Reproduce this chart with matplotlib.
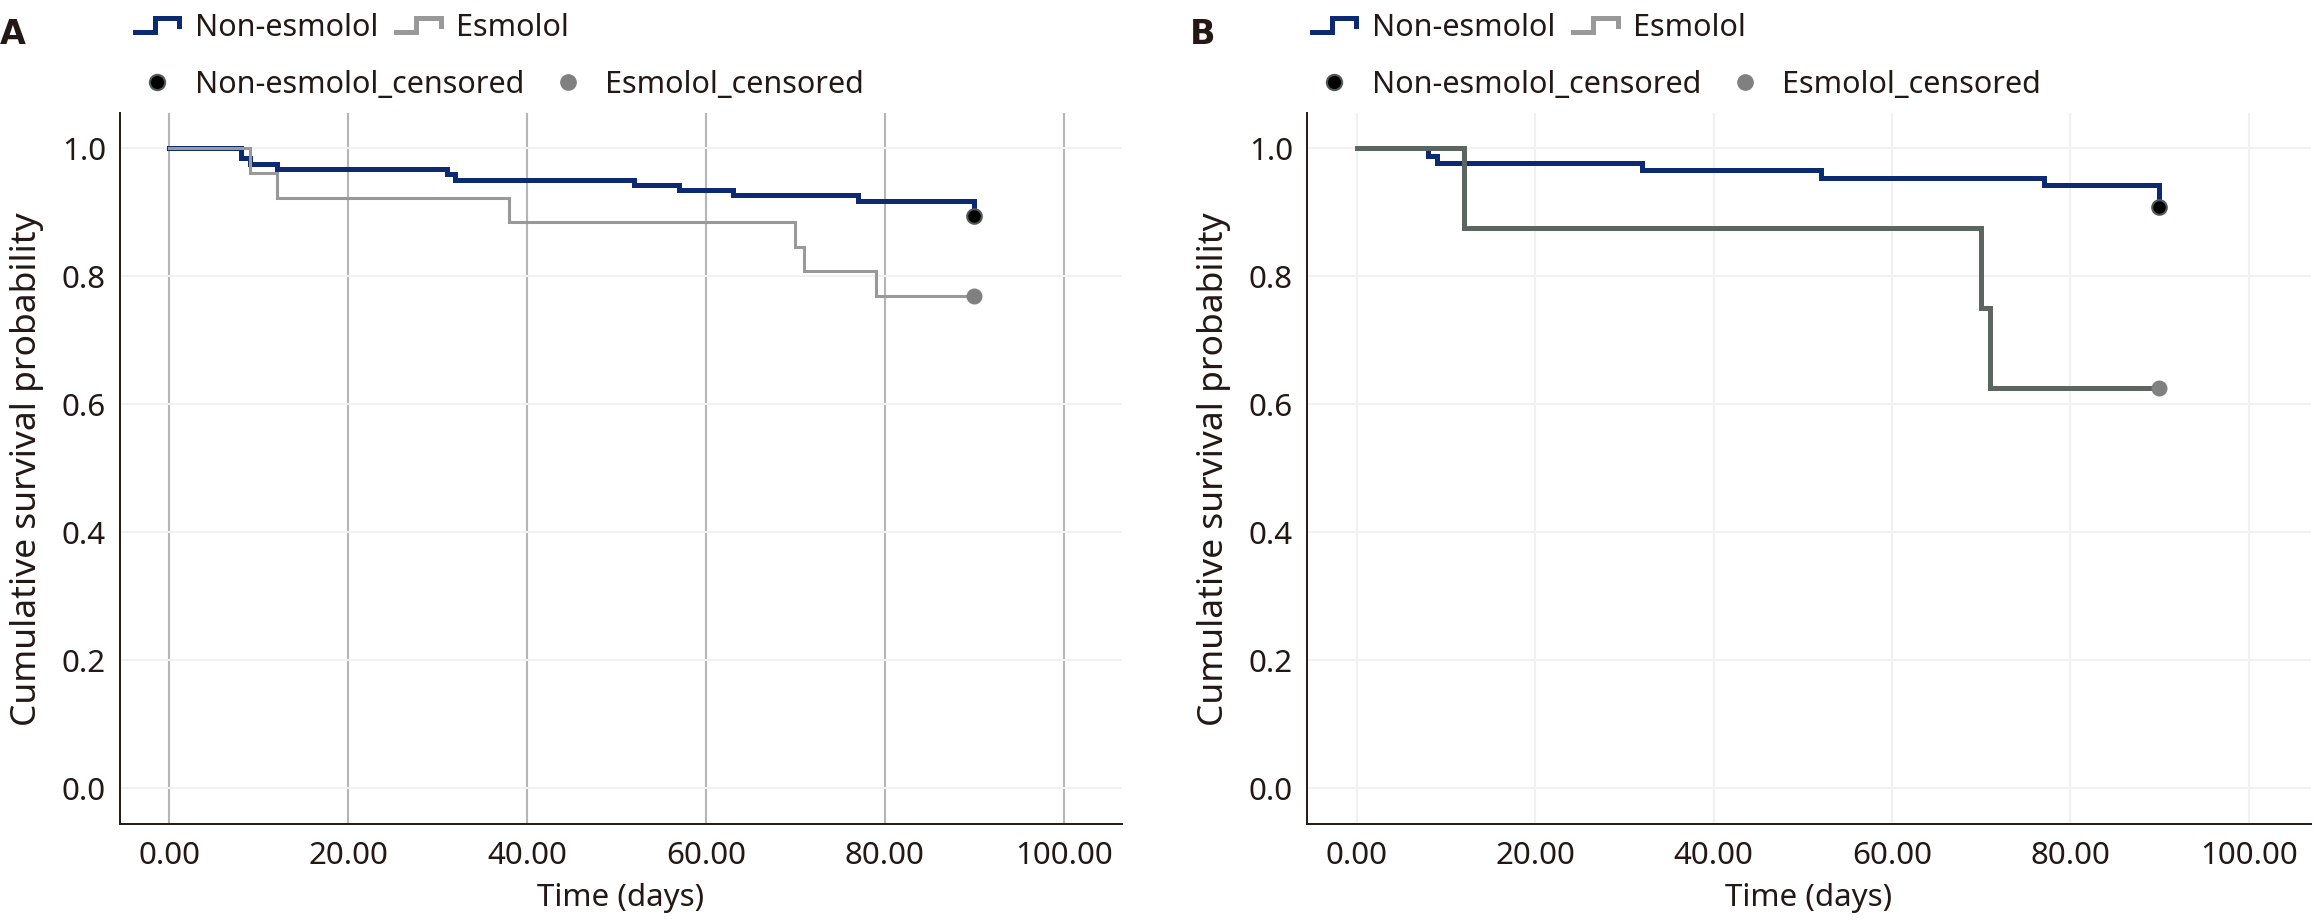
import matplotlib
matplotlib.use("Agg")
import matplotlib.pyplot as plt
from matplotlib.lines import Line2D
from matplotlib.legend_handler import HandlerBase

# Kaplan-Meier step data (time in days, survival)
A_NON_T = [0, 8, 9, 12, 31, 32, 52, 57, 63, 77, 90]
A_NON_S = [1.0, 0.985, 0.976, 0.968, 0.960, 0.951, 0.943, 0.935, 0.927, 0.918, 0.894]
A_ES_T = [0, 9, 12, 38, 70, 71, 79, 90]
A_ES_S = [1.0, 0.962, 0.923, 0.885, 0.846, 0.808, 0.769, 0.769]

B_NON_T = [0, 8, 9, 32, 52, 77, 90]
B_NON_S = [1.0, 0.989, 0.977, 0.966, 0.954, 0.943, 0.908]
B_ES_T = [0, 12, 70, 71, 90]
B_ES_S = [1.0, 0.875, 0.750, 0.625, 0.625]

X_TICKS = [0, 20, 40, 60, 80, 100]
Y_TICKS = [0.0, 0.2, 0.4, 0.6, 0.8, 1.0]

NAVY = "#0b2a72"
GRAY_A = "#999999"
GRAY_B = "#5b6660"
CENS_GRAY = "#808080"
INK = "#231815"
FONT = ["Noto Sans", "DejaVu Sans"]


class StepHandler(HandlerBase):
    """little step glyph used by SPSS style legends"""
    def create_artists(self, legend, orig_handle, xdescent, ydescent,
                       width, height, fontsize, trans):
        x0 = -xdescent
        y0 = -ydescent
        xs = [x0, x0 + 0.45 * width, x0 + 0.45 * width, x0 + width, x0 + width]
        ys = [y0 + 0.2 * height, y0 + 0.2 * height, y0 + 0.85 * height,
              y0 + 0.85 * height, y0 + 0.45 * height]
        ln = Line2D(xs, ys, color=orig_handle.get_color(),
                    lw=orig_handle.get_linewidth(), transform=trans,
                    solid_joinstyle="miter")
        return [ln]


W, H = 2314, 921
fig = plt.figure(figsize=(W / 100, H / 100), dpi=100)

panels = [
    dict(rect=[120 / W, 0.1053, 1002 / W, 0.7717], xlim=(-5.5, 106.5),
         non=(A_NON_T, A_NON_S), es=(A_ES_T, A_ES_S), es_color=GRAY_A, es_lw=2.2,
         vgrid="#b5b5b5", letter="A", letter_x=0, leg_x=135),
    dict(rect=[1307 / W, 0.1053, 1004 / W, 0.7717], xlim=(-5.6, 107),
         non=(B_NON_T, B_NON_S), es=(B_ES_T, B_ES_S), es_color=GRAY_B, es_lw=3.6,
         vgrid="#f1f1f1", letter="B", letter_x=1190, leg_x=1312),
]

for p in panels:
    ax = fig.add_axes(p["rect"])
    ax.set_xlim(*p["xlim"])
    ax.set_ylim(-0.056, 1.055)

    ax.set_xticks(X_TICKS)
    ax.set_xticklabels([f"{v:.2f}" for v in X_TICKS], family=FONT, fontsize=22.5)
    ax.set_yticks(Y_TICKS)
    ax.set_yticklabels([f"{v:.1f}" for v in Y_TICKS], family=FONT, fontsize=22.5)
    ax.tick_params(axis="both", length=0, colors=INK)
    ax.tick_params(axis="x", pad=12)
    ax.tick_params(axis="y", pad=10)

    ax.xaxis.grid(True, color=p["vgrid"], lw=1.5)
    ax.yaxis.grid(True, color="#f1f1f1", lw=1.5)
    ax.set_axisbelow(True)
    for s in ("top", "right"):
        ax.spines[s].set_visible(False)
    for s in ("left", "bottom"):
        ax.spines[s].set_linewidth(1.4)
        ax.spines[s].set_color(INK)

    t, s = p["non"]
    ax.step(t, s, where="post", color=NAVY, lw=3.6, solid_joinstyle="miter")
    ax.plot(t[-1], s[-1], "o", ms=10.5, mfc="black", mec="#505a55", mew=1.5, zorder=5)
    t, s = p["es"]
    ax.step(t, s, where="post", color=p["es_color"], lw=p["es_lw"], solid_joinstyle="miter")
    ax.plot(t[-1], s[-1], "o", ms=10.5, mfc=CENS_GRAY, mec=CENS_GRAY, mew=1.0, zorder=5)

    ax.set_xlabel("Time (days)", family=FONT, fontsize=22.5, color=INK, labelpad=9)
    ax.set_ylabel("Cumulative survival probability", family=FONT, fontsize=25.5,
                  color=INK, labelpad=13)

    # legend rows (two separate legends so columns don't align)
    h1 = [Line2D([], [], color=NAVY, lw=3.6), Line2D([], [], color=GRAY_A, lw=3.6)]
    leg1 = fig.legend(h1, ["Non-esmolol", "Esmolol"], loc="upper left",
                      bbox_to_anchor=(p["leg_x"] / W, 1 - 13 / H), ncol=2, frameon=False,
                      borderpad=0, borderaxespad=0, handlelength=1.45, handletextpad=0.5,
                      columnspacing=0.6, prop={"family": FONT, "size": 22},
                      handler_map={Line2D: StepHandler()})
    h2 = [Line2D([], [], ls="", marker="o", ms=11, mfc="black", mec="#505a55", mew=1.5),
          Line2D([], [], ls="", marker="o", ms=11, mfc=CENS_GRAY, mec=CENS_GRAY)]
    leg2 = fig.legend(h2, ["Non-esmolol_censored", "Esmolol_censored"], loc="upper left",
                      bbox_to_anchor=(p["leg_x"] / W, 1 - 70 / H), ncol=2, frameon=False,
                      borderpad=0, borderaxespad=0, handlelength=1.45, handletextpad=0.5,
                      columnspacing=0.7, prop={"family": FONT, "size": 22})
    for lg in (leg1, leg2):
        for txt in lg.get_texts():
            txt.set_color(INK)

    fig.text(p["letter_x"] / W, 1 - 18 / H, p["letter"], family="DejaVu Sans",
             fontsize=24, fontweight="bold", color=INK, ha="left", va="top")

fig.savefig("out.png", dpi=100)
